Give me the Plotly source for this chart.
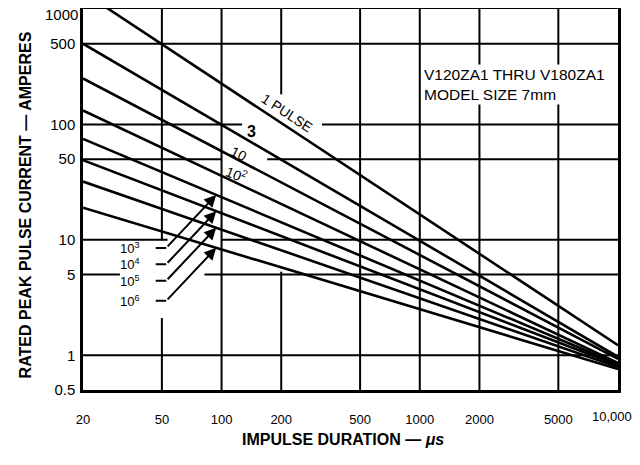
import numpy as np
import plotly.graph_objects as go

# impulse duration (us) at both ends of each rating line
duration = [20, 10000]

# rated peak current (A) at 20 us and 10,000 us, per number of pulses
amps_1 = [1400, 1.22]
amps_3 = [500, 0.97]
amps_10 = [250, 0.93]
amps_1e2 = [132, 0.86]
amps_1e3 = [75, 0.84]
amps_1e4 = [49, 0.82]
amps_1e5 = [32, 0.79]
amps_1e6 = [19, 0.76]

series = [amps_1, amps_3, amps_10, amps_1e2, amps_1e3, amps_1e4, amps_1e5, amps_1e6]

x_ticks = [20, 50, 100, 200, 500, 1000, 2000, 5000]
x_tick_text = ['20', '50', '100', '200', '500', '1000', '2000', '5000']
y_ticks = [0.5, 1, 5, 10, 50, 100, 500]
y_tick_text = ['0.5', '1', '5', '10', '50', '100', '500']

FONT = 'Liberation Sans, Arial, Helvetica, sans-serif'
lg = np.log10

fig = go.Figure()

for vals in series:
    fig.add_trace(go.Scatter(x=duration, y=vals, mode='lines',
                             line=dict(color='black', width=2.6),
                             showlegend=False, hoverinfo='skip'))

# grid drawn as segments so the gaps of the original drawing can be kept
x_lo, x_hi = 20, 10000
y_lo, y_hi = 0.5, 1000
v_grid = {50: [(y_lo, 2.1), (9.9, y_hi)],
          100: [(y_lo, y_hi)],
          200: [(y_lo, 5.3), (182, y_hi)],
          500: [(y_lo, y_hi)],
          1000: [(y_lo, y_hi)],
          2000: [(y_lo, y_hi)],
          5000: [(y_lo, y_hi)]}
h_grid = {500: [(x_lo, x_hi)],
          100: [(x_lo, 127), (321, x_hi)],
          50: [(x_lo, 100), (170, x_hi)],
          10: [(x_lo, 53.4), (100, x_hi)],
          5: [(x_lo, 30.7), (82, x_hi)],
          1: [(x_lo, x_hi)]}
shapes = []
for xv, segs in v_grid.items():
    for a, b in segs:
        shapes.append(dict(type='line', xref='x', yref='y', x0=xv, x1=xv, y0=a, y1=b,
                           line=dict(color='black', width=2), layer='below'))
for yv, segs in h_grid.items():
    for a, b in segs:
        shapes.append(dict(type='line', xref='x', yref='y', x0=a, x1=b, y0=yv, y1=yv,
                           line=dict(color='black', width=2), layer='below'))

ann = []
lab_font = dict(family=FONT, size=14, color='black')
ann.append(dict(x=lg(214), y=lg(125), text='1 PULSE', textangle=33.5, showarrow=False, font=lab_font))
ann.append(dict(x=lg(141), y=lg(87.5), text='<b>3</b>', showarrow=False, font=dict(family=FONT, size=16, color='black')))
ann.append(dict(x=lg(123), y=lg(55.6), text='10', textangle=26, showarrow=False, font=lab_font))
ann.append(dict(x=lg(119), y=lg(37.4), text='10<sup>2</sup>', textangle=22, showarrow=False, font=lab_font))

# leader arrows for the lower curves
tip_x = 94
for vals, txt in zip(series[4:], ['10<sup>3</sup>', '10<sup>4</sup>', '10<sup>5</sup>', '10<sup>6</sup>']):
    tip_y = np.interp(lg(tip_x), lg(duration), lg(vals))
    ann.append(dict(x=lg(tip_x), y=tip_y, text='', showarrow=True, arrowhead=2, arrowsize=1.2,
                    arrowwidth=2, arrowcolor='black', ax=-50, ay=53))
    ann.append(dict(x=lg(tip_x), y=tip_y, text='', showarrow=True, arrowhead=0,
                    arrowwidth=2, arrowcolor='black', ax=-12, ay=0, xshift=-50, yshift=-53))
    ann.append(dict(x=lg(tip_x), y=tip_y, text=txt, showarrow=False, xanchor='right',
                    xshift=-74, yshift=-53, font=dict(family=FONT, size=13, color='black')))

ann.append(dict(x=lg(1030), y=lg(222), text='V120ZA1 THRU V180ZA1<br>MODEL SIZE 7mm',
                showarrow=False, xanchor='left', align='left', bgcolor='white',
                font=dict(family=FONT, size=15.5, color='black')))

# end tick labels placed by hand so they stay inside the page, as in the original
ann.append(dict(xref='paper', x=0, y=lg(1000), text='1000', showarrow=False, xanchor='right',
                xshift=-3, yshift=-5, font=dict(family=FONT, size=15, color='black')))
ann.append(dict(yref='paper', x=lg(10000), y=0, text='10,000', showarrow=False, xanchor='right',
                xshift=16, yshift=-36, font=dict(family=FONT, size=13, color='black')))

ann.append(dict(xref='paper', yref='paper', x=0.486, y=-0.157, text='<b>IMPULSE DURATION — <i>μs</i></b>',
                showarrow=False, font=dict(family=FONT, size=16, color='black')))
ann.append(dict(xref='paper', yref='paper', x=-0.127, y=0.486, text='<b>RATED PEAK PULSE CURRENT — AMPERES</b>',
                textangle=-90, showarrow=False, font=dict(family=FONT, size=16, color='black')))

# the page adds an 8 px body margin, so the figure is sized to fit inside the window
fig.update_layout(
    width=632, height=457,
    margin=dict(l=75, r=22, t=1, b=75),
    paper_bgcolor='white', plot_bgcolor='white',
    shapes=shapes, annotations=ann,
    xaxis=dict(type='log', range=[lg(20), 4], showgrid=False, zeroline=False, automargin=False,
               showline=True, mirror=True, linecolor='black', linewidth=2.5,
               tickvals=x_ticks, ticktext=x_tick_text, ticks='', ticklabelstandoff=16,
               tickfont=dict(family=FONT, size=13, color='black')),
    yaxis=dict(type='log', range=[lg(0.5), 3], showgrid=False, zeroline=False, automargin=False,
               showline=True, mirror=True, linecolor='black', linewidth=2.5,
               tickvals=y_ticks, ticktext=y_tick_text, ticks='', ticklabelstandoff=2,
               tickfont=dict(family=FONT, size=15, color='black')),
)

fig.write_html('out.html')
